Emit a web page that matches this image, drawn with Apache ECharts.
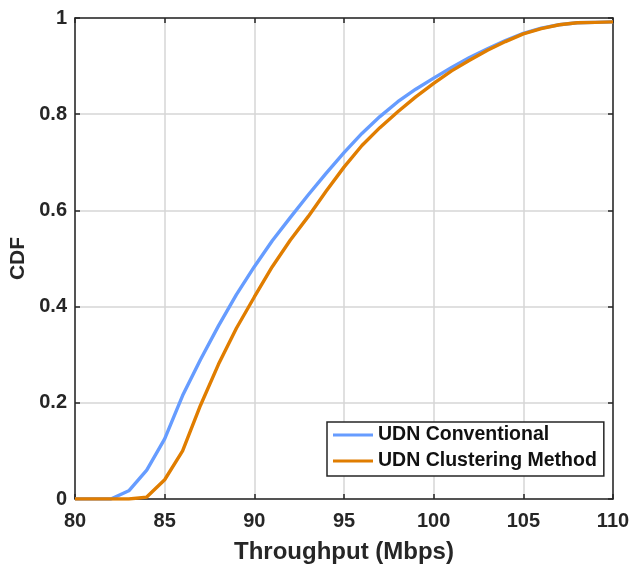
<!DOCTYPE html>
<html>
<head>
<meta charset="utf-8">
<script src="https://cdn.jsdelivr.net/npm/echarts@6/dist/echarts.min.js"></script>
<style>html,body{margin:0;padding:0;background:#fff;}#c{width:633px;height:564px;}</style>
</head>
<body>
<div id="c"></div>
<script>
const throughput = [80,81,82,83,84,85,86,87,88,89,90,91,92,93,94,95,96,97,98,99,100,101,102,103,104,105,106,107,108,109,110];
const conventional = [0,0,0,0.017,0.06,0.125,0.215,0.29,0.36,0.425,0.483,0.537,0.585,0.632,0.677,0.72,0.76,0.795,0.826,0.852,0.875,0.897,0.918,0.936,0.953,0.968,0.979,0.986,0.99,0.991,0.992];
const clustering = [0,0,0,0,0.004,0.04,0.10,0.195,0.28,0.355,0.42,0.483,0.538,0.587,0.64,0.69,0.735,0.772,0.805,0.836,0.864,0.89,0.912,0.933,0.951,0.967,0.978,0.986,0.99,0.991,0.992];
const xTicks = [80,85,90,95,100,105,110];
const yTicks = [0,0.2,0.4,0.6,0.8,1];
const seriesNames = ['UDN Conventional','UDN Clustering Method'];

const toPairs = (xs, ys) => xs.map((x,i)=>[x, ys[i]]);
const font = 'Liberation Sans, Arial, sans-serif';
const axisCol = '#262626';
const chart = echarts.init(document.getElementById('c'), null, {renderer:'canvas'});
const baseX = {
  type:'value', min:xTicks[0], max:xTicks[xTicks.length-1], interval:5,
  axisLine:{show:true, onZero:false, lineStyle:{color:axisCol, width:1.5}},
  axisTick:{show:true, inside:true, length:5, lineStyle:{color:axisCol, width:1.5}},
};
const baseY = {
  type:'value', min:yTicks[0], max:yTicks[yTicks.length-1], interval:0.2,
  axisLine:{show:true, onZero:false, lineStyle:{color:axisCol, width:1.5}},
  axisTick:{show:true, inside:true, length:5, lineStyle:{color:axisCol, width:1.5}},
};
chart.setOption({
  animation:false,
  backgroundColor:'#fff',
  grid:{left:75, right:20, top:18, bottom:65, containLabel:false, outerBoundsMode:'none'},
  xAxis:[
    Object.assign({}, baseX, {
      position:'bottom',
      name:'Throughput (Mbps)', nameLocation:'middle', nameGap:41,
      nameTextStyle:{fontFamily:font, fontWeight:'bold', fontSize:24, color:axisCol},
      axisLabel:{fontFamily:font, fontWeight:'bold', fontSize:20, color:axisCol, margin:12},
      splitLine:{show:true, lineStyle:{color:'#d6d6d6', width:1.5}}
    }),
    Object.assign({}, baseX, {position:'top', axisLabel:{show:false}, splitLine:{show:false}})
  ],
  yAxis:[
    Object.assign({}, baseY, {
      position:'left',
      name:'CDF', nameLocation:'middle', nameGap:42,
      nameTextStyle:{fontFamily:font, fontWeight:'bold', fontSize:21, color:axisCol},
      axisLabel:{fontFamily:font, fontWeight:'bold', fontSize:20, color:axisCol, margin:8},
      splitLine:{show:true, lineStyle:{color:'#d6d6d6', width:1.5}}
    }),
    Object.assign({}, baseY, {position:'right', axisLabel:{show:false}, splitLine:{show:false}})
  ],
  legend:{
    orient:'vertical', left:327, top:422,
    backgroundColor:'#fff', borderColor:axisCol, borderWidth:1.5, borderRadius:0,
    padding:[3,7,5,6], itemGap:6,
    icon:'rect', itemWidth:40, itemHeight:3,
    textStyle:{fontFamily:font, fontWeight:'bold', fontSize:19.5, lineHeight:20, color:'#111'},
    data:seriesNames
  },
  series:[
    {name:seriesNames[0], type:'line', data:toPairs(throughput, conventional), showSymbol:false, symbol:'none', smooth:false,
     lineStyle:{color:'#669cff', width:3.4}, itemStyle:{color:'#669cff'}, z:3},
    {name:seriesNames[1], type:'line', data:toPairs(throughput, clustering), showSymbol:false, symbol:'none', smooth:false,
     lineStyle:{color:'#e07d00', width:3.4}, itemStyle:{color:'#e07d00'}, z:4}
  ]
});
</script>
</body>
</html>
